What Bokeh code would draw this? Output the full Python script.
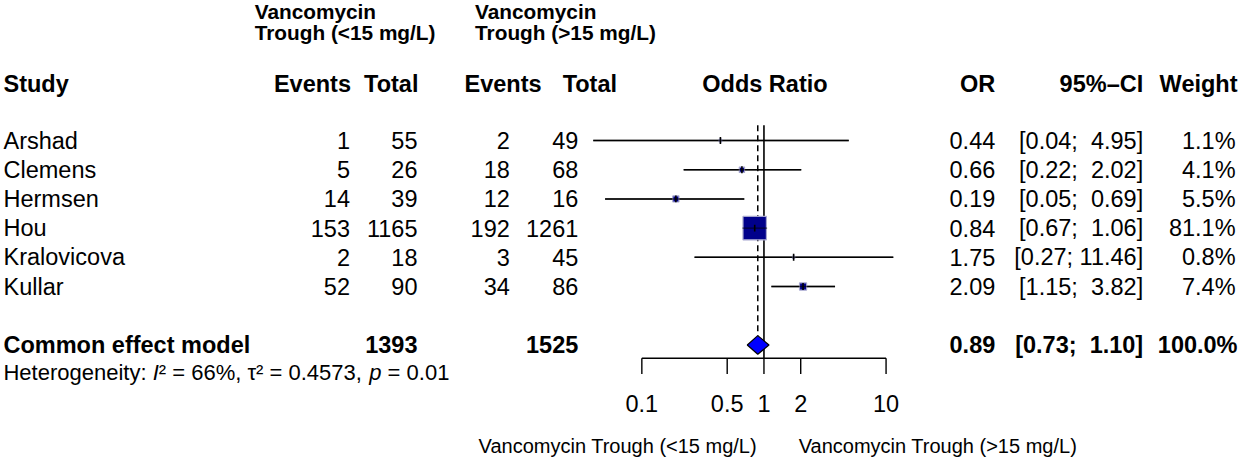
import math
from bokeh.plotting import figure
from bokeh.models import Range1d, LogScale
from bokeh.core.properties import value
from bokeh.embed import file_html
from bokeh.resources import INLINE

# ---------------- data ----------------
studies = ["Arshad", "Clemens", "Hermsen", "Hou", "Kralovicova", "Kullar"]
events_low = [1, 5, 14, 153, 2, 52]
total_low = [55, 26, 39, 1165, 18, 90]
events_high = [2, 18, 12, 192, 3, 34]
total_high = [49, 68, 16, 1261, 45, 86]
odds_ratio = [0.44, 0.66, 0.19, 0.84, 1.75, 2.09]
ci_lower = [0.04, 0.22, 0.05, 0.67, 0.27, 1.15]
ci_upper = [4.95, 2.02, 0.69, 1.06, 11.46, 3.82]
weight = [1.1, 4.1, 5.5, 81.1, 0.8, 7.4]

common_label = "Common effect model"
common_total_low = 1393
common_total_high = 1525
common_or = 0.89
common_lower = 0.73
common_upper = 1.10
common_weight = 100.0
het_parts = [("Heterogeneity: ", "normal"), ("I", "italic"),
             ("² = 66%, τ² = 0.4573, ", "normal"), ("p", "italic"), (" = 0.01", "normal")]

tick_values = [0.1, 0.5, 1, 2, 10]
tick_labels = ["0.1", "0.5", "1", "2", "10"]

group_low = "Vancomycin Trough (<15 mg/L)"
group_high = "Vancomycin Trough (>15 mg/L)"

# ---------------- layout ----------------
W, H = 1239, 458
XS, XE = 6, 1254          # data units = reference pixels
YT, YB = 8, 474
FONT = value("Liberation Sans")
FS = "23.5px"

p = figure(width=W, height=H, output_backend="svg", toolbar_location=None,
           x_range=Range1d(XS, XE), y_range=Range1d(YB, YT),
           min_border=0, x_axis_location=None, y_axis_location=None,
           outline_line_color=None, background_fill_color="white")
p.xgrid.visible = False
p.ygrid.visible = False

# log scale for the odds ratio panel: 1 -> 775, one decade -> 123
X1, DEC = 775.0, 123.0
p.extra_x_ranges = {"or": Range1d(10 ** ((XS - X1) / DEC), 10 ** ((XE - X1) / DEC))}
p.extra_x_scales = {"or": LogScale()}

row0, dy = 150.5, 29.7
rows = [row0 + i * dy for i in range(len(studies))]
y_common = 358.5
y_het = 386
y_axis = 372


def txt(x, y, t, align="left", bold=False, size=FS, style=None, **kw):
    st = style or ("bold" if bold else "normal")
    p.text(x=x, y=y, text=t, text_font=FONT, text_font_size=size,
           text_align=align, text_baseline="middle", text_color="black",
           text_font_style=st, **kw)


# headers
HS = "20.8px"
txt([262], [19], ["Vancomycin"], bold=True, size=HS)
txt([262], [41], ["Trough (<15 mg/L)"], bold=True, size=HS)
txt([484], [19], ["Vancomycin"], bold=True, size=HS)
txt([484], [41], ["Trough (>15 mg/L)"], bold=True, size=HS)

yh = 93
txt([9], [yh], ["Study"], bold=True)
txt([359, 427, 551, 627], [yh] * 4, ["Events", "Total", "Events", "Total"], align="right", bold=True)
txt([776], [yh], ["Odds Ratio"], align="center", bold=True)
txt([1008, 1157, 1252], [yh] * 3, ["OR", "95%–CI", "Weight"], align="right", bold=True)

# study rows
txt([9] * 6, rows, studies)
txt([358] * 6, rows, [str(v) for v in events_low], align="right")
txt([426] * 6, rows, [str(v) for v in total_low], align="right")
txt([519] * 6, rows, [str(v) for v in events_high], align="right")
txt([588] * 6, rows, [str(v) for v in total_high], align="right")
txt([1008] * 6, rows, [f"{v:.2f}" for v in odds_ratio], align="right")


def ci_text(lo, hi):
    a = f"{lo:.2f}"
    b = f"{hi:.2f}"
    pad = " \u00a0" if len(b) < 5 else " "
    return f"[{a};{pad}{b}]"


txt([1157] * 6, rows, [ci_text(a, b) for a, b in zip(ci_lower, ci_upper)], align="right")
txt([1250] * 6, rows, [f"{w:.1f}%" for w in weight], align="right")

# common effect row
txt([9], [y_common], [common_label], bold=True)
txt([426], [y_common], [str(common_total_low)], align="right", bold=True)
txt([588], [y_common], [str(common_total_high)], align="right", bold=True)
txt([1008], [y_common], [f"{common_or:.2f}"], align="right", bold=True)
txt([1157], [y_common], [ci_text(common_lower, common_upper)], align="right", bold=True)
txt([1252], [y_common], [f"{common_weight:.1f}%"], align="right", bold=True)

# heterogeneity line, with italic symbols (Arial-metric advance widths)
AW = {"H": 722, "e": 556, "t": 278, "r": 333, "o": 556, "g": 556, "n": 556, "i": 222,
      "y": 500, ":": 278, " ": 278, "I": 278, "²": 333, "=": 584, "%": 889, ",": 278,
      "τ": 450, ".": 278, "p": 556}
HF = 22.0
px_per_unit = W / (XE - XS)


def tw(s):
    return sum(AW.get(c, 556) for c in s) * HF / 1000 / px_per_unit


cursor = 9.0
for s, st in het_parts:
    lead = len(s) - len(s.lstrip(" "))
    txt([cursor + tw(" " * lead)], [y_het], [s.strip(" ")], size=f"{HF}px", style=st)
    cursor += tw(s)

# ---------------- forest panel ----------------
p.segment(x0=[1], x1=[1], y0=[135], y1=[y_axis], x_range_name="or",
          line_color="black", line_width=1.6)
p.segment(x0=[common_or], x1=[common_or], y0=[135], y1=[y_common - 9.5], x_range_name="or",
          line_color="black", line_width=1.5, line_dash="6 4")

p.segment(x0=ci_lower, x1=ci_upper, y0=rows, y1=rows, x_range_name="or",
          line_color="black", line_width=1.6)
sizes = [2.6 * math.sqrt(w) for w in weight]
p.scatter(x=odds_ratio, y=rows, size=sizes, marker="square", x_range_name="or",
          fill_color="#00008b", line_color="#a6a6cf", line_width=1.2)
p.segment(x0=ci_lower, x1=ci_upper, y0=rows, y1=rows, x_range_name="or",
          line_color="black", line_width=1.4, line_alpha=0.6)
p.segment(x0=odds_ratio, x1=odds_ratio, y0=[r - 3.5 for r in rows], y1=[r + 3.5 for r in rows],
          x_range_name="or", line_color="black", line_width=1.6)

p.patch(x=[common_lower, common_or, common_upper, common_or],
        y=[y_common, y_common - 9.5, y_common, y_common + 9.5],
        x_range_name="or", fill_color="#0000ff", line_color="black", line_width=1.2)

# axis
p.segment(x0=[min(tick_values)], x1=[max(tick_values)], y0=[y_axis], y1=[y_axis],
          x_range_name="or", line_color="black", line_width=1.4)
p.segment(x0=tick_values, x1=tick_values, y0=[y_axis] * 5, y1=[y_axis + 16] * 5,
          x_range_name="or", line_color="black", line_width=1.4)
p.text(x=tick_values, y=[418] * 5, text=tick_labels, x_range_name="or",
       text_font=FONT, text_font_size=FS, text_align="center", text_baseline="middle",
       text_color="black")

# group labels under the axis
txt([768], [461], [group_low], align="right", size="20px")
txt([810], [461], [group_high], align="left", size="20px")

open("out.html", "w").write(file_html(p, INLINE))
